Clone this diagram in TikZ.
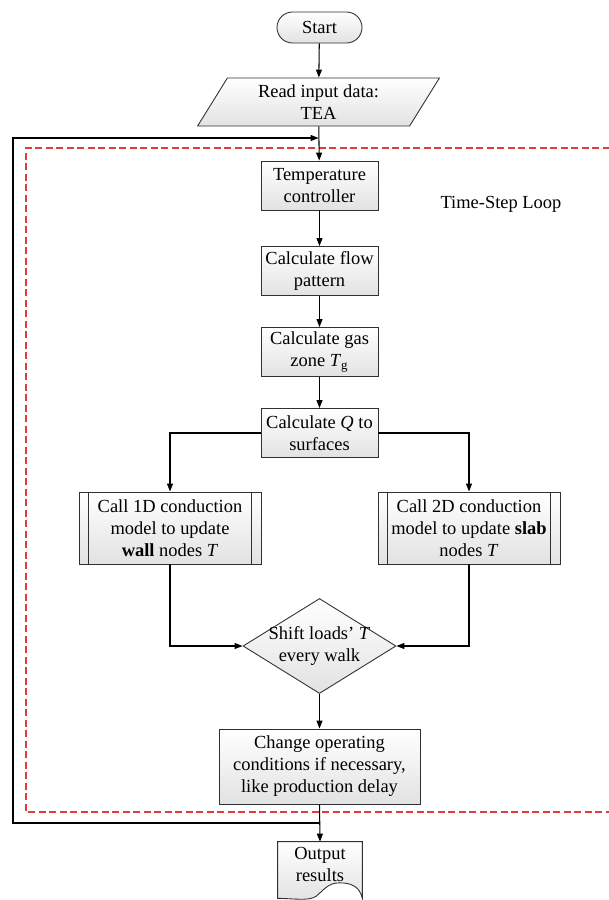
\documentclass[tikz,border=0pt]{standalone}
\usepackage{fontspec}
\setmainfont{Liberation Serif}
\usetikzlibrary{arrows.meta,positioning,calc,shapes.geometric,backgrounds}
\definecolor{loopred}{HTML}{E03C3C}
\definecolor{boxgray}{HTML}{E2E2E2}
\definecolor{edgegray}{HTML}{303030}

\begin{document}
\begin{tikzpicture}[
  font=\fontsize{10.5}{12.5}\selectfont,
  shadebox/.style={draw=edgegray, line width=0.5pt, top color=white, bottom color=boxgray},
  term/.style={shadebox, rounded corners=0.31cm, minimum width=1.7cm, minimum height=0.62cm},
  io/.style={shadebox, trapezium, trapezium left angle=62, trapezium right angle=118,
    trapezium stretches=true, minimum width=4.86cm, minimum height=0.96cm, inner sep=1pt, align=center},
  proc/.style={shadebox, align=center, minimum width=2.34cm, minimum height=0.98cm, inner sep=2pt},
  subproc/.style={shadebox, align=center, minimum width=3.64cm, minimum height=1.44cm, inner sep=2pt},
  decision/.style={shadebox, diamond, minimum width=3.06cm, minimum height=1.9cm, inner sep=0pt},
  arr/.style={-{Triangle[length=1.6mm,width=1.2mm]}, line width=0.6pt},
  looplbl/.style={font=\fontsize{10.5}{12.5}\selectfont},
]
\useasboundingbox (0,0) rectangle (12.18,-18);
\node[term] (start) at (6.39,-0.55) {Start};
\node[io] (read) at (6.37,-2.04) {Read input data:\\TEA};
\node[proc] (temp) at (6.39,-3.71) {Temperature\\controller};
\node[proc] (flow) at (6.39,-5.42) {Calculate flow\\pattern};
\node[proc] (gas) at (6.39,-7.04) {Calculate gas\\zone \textit{T}\textsubscript{g}};
\node[proc] (surf) at (6.39,-8.66) {Calculate \textit{Q} to\\surfaces};
\node[subproc] (wall) at (3.4,-10.56) {Call 1D conduction\\model to update\\\textbf{wall} nodes \textit{T}};
\node[subproc] (slab) at (9.38,-10.56) {Call 2D conduction\\model to update \textbf{slab}\\nodes \textit{T}};
\node[decision] (shift) at (6.39,-12.92) {};
\node[align=center] (shifttxt) at (shift.center) {Shift loads' \textit{T}\\every walk};
\node[proc, minimum width=4.02cm, minimum height=1.5cm] (change) at (6.39,-15.33)
  {Change operating\\conditions if necessary,\\like production delay};
\node[align=center, minimum width=1.68cm, minimum height=0.88cm, inner sep=0pt] (out) at (6.4,-17.28) {Output\\results};
\node[looplbl] (loop) at (10.02,-4.08) {Time-Step Loop};
% --- subroutine side bars ---
\foreach \b in {wall,slab} {
  \draw[draw=edgegray, line width=0.5pt] ([xshift=0.2cm]\b.north west) -- ([xshift=0.2cm]\b.south west);
  \draw[draw=edgegray, line width=0.5pt] ([xshift=-0.2cm]\b.north east) -- ([xshift=-0.2cm]\b.south east);
}
% --- document shape behind output ---
\begin{scope}[on background layer]
\draw[shadebox] ([yshift=-0.24cm]out.south west) -- (out.north west) -- (out.north east)
  -- ([yshift=-0.24cm]out.south east)
  .. controls +(-0.06,0.26) and +(0.22,0) .. ($(out.south)+(0.38,0.07)$)
  .. controls +(-0.22,0) and +(0.15,0.12) .. ($(out.south)+(-0.08,-0.2)$)
  .. controls +(-0.15,-0.1) and +(0.3,0) .. ([yshift=-0.24cm]out.south west) -- cycle;
\end{scope}
% --- time-step loop frame ---
\draw[loopred, line width=0.7pt, dash pattern=on 0.14cm off 0.07cm]
  (12.4,-2.96) -- (0.52,-2.96) -- (0.52,-16.24) -- (12.4,-16.24);
% --- main flow ---
\draw[arr] (start) -- (read);
\draw[arr] (read) -- (temp);
\draw[arr] (temp) -- (flow);
\draw[arr] (flow) -- (gas);
\draw[arr] (gas) -- (surf);
\draw[arr] (surf.west) -| (wall.north);
\draw[arr] (surf.east) -| (slab.north);
\draw[arr] (wall.south) |- (shift.west);
\draw[arr] (slab.south) |- (shift.east);
\draw[arr] (shift.south) -- (change.north);
\draw[arr] (change.south) -- (out.north);
% --- loop back ---
\coordinate (loopbot) at (0.26,-16.46);
\coordinate (looptop) at (0.26,-2.76);
\draw[arr] (change.south |- loopbot) -- (loopbot) -- (looptop) -- (read.south |- looptop);
\end{tikzpicture}
\end{document}
